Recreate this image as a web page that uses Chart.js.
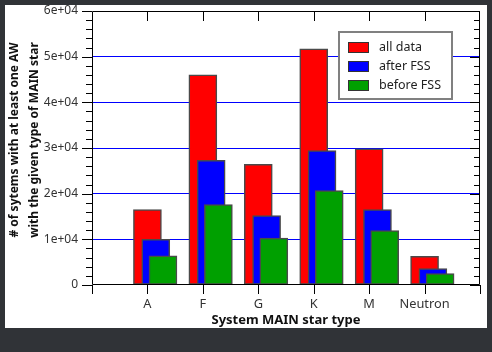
<!DOCTYPE html>
<html>
<head>
<meta charset="utf-8">
<script src="https://cdn.jsdelivr.net/npm/chart.js@4.4.0/dist/chart.umd.min.js"></script>
<style>
  html, body { margin: 0; padding: 0; background: #303337; }
  #frame { position: absolute; left: 5px; top: 5px; width: 482px; height: 323px; background: #fff; }
</style>
</head>
<body>
<div id="frame"><canvas id="chart" width="482" height="323"></canvas></div>
<script>
const starTypes = ["A", "F", "G", "K", "M", "Neutron"];
const allData = [16500, 46000, 26400, 51700, 29800, 6300];
const afterFss = [10000, 27300, 15200, 29450, 16500, 3600];
const beforeFss = [6400, 17600, 10300, 20700, 11900, 2500];
const yLabels = ["0", "1e+04", "2e+04", "3e+04", "4e+04", "5e+04", "6e+04"];
const yTitle = ["# of sytems with at least one AW", "with the given type of MAIN star"];

const FONT = "'Noto Sans', 'Open Sans', sans-serif";

function toPoints(values, shift) {
  return values.map((v, i) => ({ x: i + shift, y: v }));
}

// axis box with ticks on all four sides
const frameTicks = {
  id: "frameTicks",
  afterDatasetsDraw(chart) {
    const { ctx, chartArea: a, scales } = chart;
    ctx.save();
    ctx.strokeStyle = "#000";
    ctx.lineWidth = 1;
    ctx.beginPath();
    ctx.rect(a.left + 0.5, a.top + 0.5, a.right - a.left - 1, a.bottom - a.top - 1);
    scales.y.ticks.forEach((t) => {
      const py = Math.round(scales.y.getPixelForValue(t.value)) + 0.5;
      const len = t.value % 10000 === 0 ? 10 : 6;
      ctx.moveTo(a.left, py);
      ctx.lineTo(a.left - len, py);
      ctx.moveTo(a.right, py);
      ctx.lineTo(a.right - len, py);
    });
    scales.x.ticks.forEach((t) => {
      const px = Math.round(scales.x.getPixelForValue(t.value)) + 0.5;
      ctx.moveTo(px, a.bottom);
      ctx.lineTo(px, a.bottom + 9);
      if (starTypes[t.value]) {
        ctx.moveTo(px, a.top);
        ctx.lineTo(px, a.top + 10);
      }
    });
    ctx.stroke();

    // y axis title, two rotated lines
    ctx.font = "bold 12px " + FONT;
    ctx.fillStyle = "#111";
    ctx.textAlign = "center";
    ctx.textBaseline = "middle";
    ctx.translate(10, (a.top + a.bottom) / 2 - 8);
    ctx.rotate(-Math.PI / 2);
    yTitle.forEach((line, i) => ctx.fillText(line, 0, i * 20));
    ctx.restore();
  },
};

const boxLegend = {
  id: "boxLegend",
  afterDraw(chart) {
    const { ctx, chartArea: a } = chart;
    const bx = a.right - 141;
    const by = a.top + 21;
    ctx.save();
    ctx.fillStyle = "#fff";
    ctx.fillRect(bx, by, 113, 67);
    ctx.strokeStyle = "#808080";
    ctx.lineWidth = 2;
    ctx.strokeRect(bx, by, 113, 67);
    ctx.font = "12.5px " + FONT;
    ctx.textBaseline = "middle";
    chart.data.datasets.forEach((ds, i) => {
      const sy = by + 10 + i * 19;
      ctx.fillStyle = ds.backgroundColor;
      ctx.fillRect(bx + 9, sy, 21, 11);
      ctx.strokeStyle = "#333";
      ctx.lineWidth = 1;
      ctx.strokeRect(bx + 9.5, sy + 0.5, 20, 10);
      ctx.fillStyle = "#222";
      ctx.fillText(ds.label, bx + 40, sy + 5.5);
    });
    ctx.restore();
  },
};

const barStyle = {
  barThickness: 28,
  grouped: false,
  borderWidth: 1.5,
  borderColor: "#4a4a4a",
  borderSkipped: false,
};

new Chart(document.getElementById("chart"), {
  type: "bar",
  data: {
    datasets: [
      { label: "all data", data: toPoints(allData, 0), backgroundColor: "#ff0000", order: 3, ...barStyle },
      { label: "after FSS", data: toPoints(afterFss, 0.15), backgroundColor: "#0000ff", order: 2, ...barStyle },
      { label: "before FSS", data: toPoints(beforeFss, 0.28), backgroundColor: "#00a000", order: 1, ...barStyle },
    ],
  },
  options: {
    responsive: false,
    animation: false,
    layout: { padding: { top: 6, right: 7, left: 0, bottom: 0 } },
    plugins: { legend: { display: false }, tooltip: { enabled: false } },
    scales: {
      x: {
        type: "linear",
        min: -1,
        max: 6,
        offset: false,
        grid: { drawOnChartArea: false, drawTicks: true, tickLength: 12, tickColor: "rgba(0,0,0,0)" },
        border: { display: false },
        ticks: {
          stepSize: 1,
          autoSkip: false,
          maxRotation: 0,
          padding: 0,
          color: "#333",
          font: { family: FONT, size: 12.8 },
          callback: (v) => starTypes[v] || "",
        },
        title: {
          display: true,
          text: "System MAIN star type",
          color: "#111",
          padding: 0,
          font: { family: FONT, size: 13, weight: "bold" },
        },
        afterFit: (s) => { s.height = 43; },
      },
      y: {
        min: 0,
        max: 60000,
        border: { display: false },
        grid: {
          drawTicks: true,
          tickLength: 14,
          tickColor: "rgba(0,0,0,0)",
          lineWidth: 1,
          color: (c) => {
            const v = c.tick ? c.tick.value : 0;
            return v % 10000 === 0 && v > 0 && v < 60000 ? "#0000ff" : "rgba(0,0,0,0)";
          },
        },
        ticks: {
          stepSize: 2000,
          autoSkip: false,
          padding: 0,
          color: "#333",
          font: { family: FONT, size: 12, lineHeight: 1 },
          callback: (v) => (v % 10000 === 0 ? yLabels[v / 10000] : ""),
        },
        title: { display: false },
        afterFit: (s) => { s.width = 87; },
      },
    },
  },
  plugins: [frameTicks, boxLegend],
});
</script>
</body>
</html>
